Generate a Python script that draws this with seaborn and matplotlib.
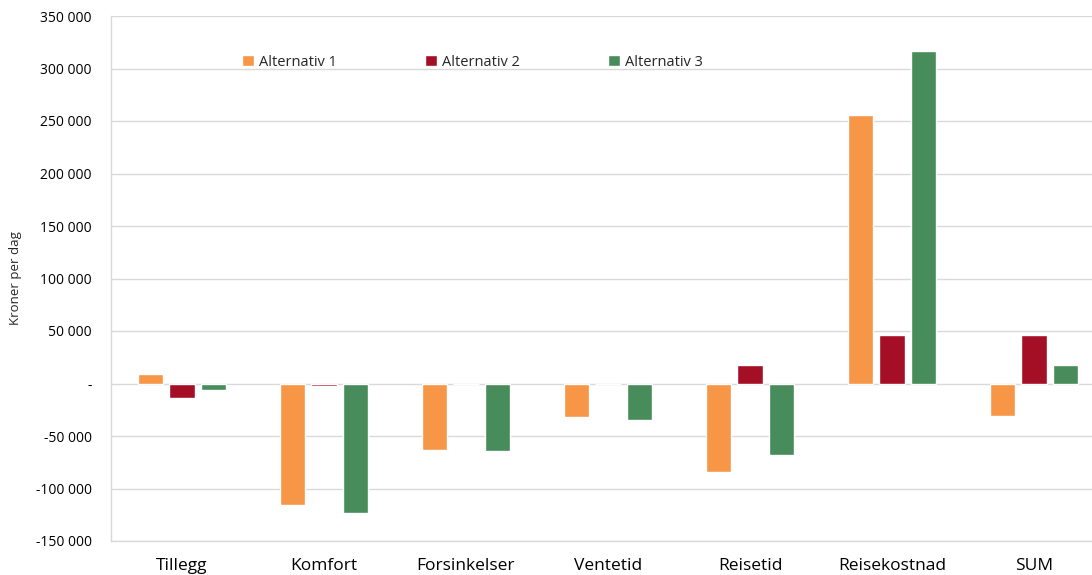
import matplotlib
matplotlib.use("Agg")
import matplotlib.pyplot as plt
import matplotlib.ticker as mticker
import seaborn as sns
import pandas as pd

categories = ["Tillegg", "Komfort", "Forsinkelser", "Ventetid", "Reisetid", "Reisekostnad", "SUM"]
series_names = ["Alternativ 1", "Alternativ 2", "Alternativ 3"]
alt1 = [9500, -116000, -63000, -31500, -84000, 255500, -30500]
alt2 = [-14000, -2500, -500, -500, 18000, 46000, 46000]
alt3 = [-6500, -123000, -64000, -35000, -68500, 317000, 18000]
colors = ["#F79646", "#A50F26", "#488C5C"]
y_ticks = [-150000, -100000, -50000, 0, 50000, 100000, 150000, 200000, 250000, 300000, 350000]

rows = []
for name, vals in zip(series_names, [alt1, alt2, alt3]):
    for c, v in zip(categories, vals):
        rows.append({"Kategori": c, "Serie": name, "Verdi": v})
df = pd.DataFrame(rows)

sns.set_style("white")
plt.rcParams["font.family"] = ["Open Sans", "DejaVu Sans"]

fig = plt.figure(figsize=(10.92, 5.75), dpi=100)
ax = fig.add_axes([111 / 1092, 1 - 541 / 575, 994 / 1092, (541 - 16) / 575])

sns.barplot(data=df, x="Kategori", y="Verdi", hue="Serie", order=categories,
            hue_order=series_names, palette=colors, width=0.665, gap=0.2,
            saturation=1, ax=ax, zorder=3)

ax.set_xlim(-0.5, len(categories) - 0.5)
ax.set_ylim(-150000, 350000)
ax.set_yticks(y_ticks)


def fmt(v, pos):
    if v == 0:
        return "-"
    s = f"{abs(int(v)):,}".replace(",", " ")
    return ("-" if v < 0 else "") + s


ax.yaxis.set_major_formatter(mticker.FuncFormatter(fmt))
ax.grid(axis="y", color="#D9D9D9", linewidth=1, zorder=0)
ax.set_axisbelow(True)
for s in ["top", "right"]:
    ax.spines[s].set_visible(False)
for s in ["left", "bottom"]:
    ax.spines[s].set_color("#D9D9D9")
    ax.spines[s].set_linewidth(1)

ax.tick_params(axis="y", length=0, pad=14, labelsize=10, labelcolor="#000000")
ax.tick_params(axis="x", length=0, pad=12, labelsize=12.5, labelcolor="#000000")
ax.set_xlabel("")
ax.set_ylabel("Kroner per dag", fontsize=9.5, labelpad=10)

handles, labels = ax.get_legend_handles_labels()
ax.legend(handles, labels, loc="center left", bbox_to_anchor=(229 / 1092, 1 - 62 / 575),
          bbox_transform=fig.transFigure, ncol=3, frameon=False, fontsize=10.5,
          handlelength=0.8, handleheight=0.8, handletextpad=0.35, columnspacing=6.05)

fig.savefig("out.png", dpi=100)
